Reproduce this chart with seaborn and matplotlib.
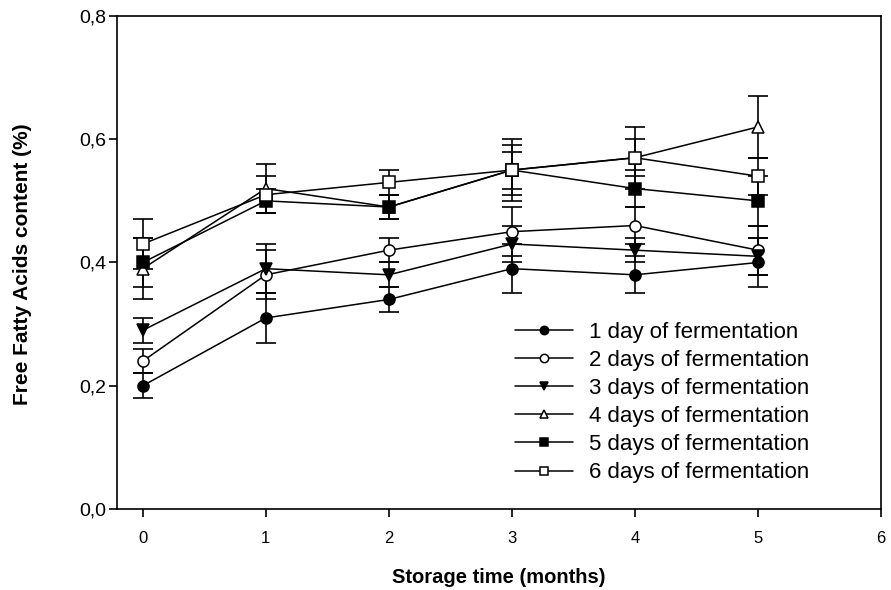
import numpy as np
import pandas as pd
import matplotlib
matplotlib.use("Agg")
import matplotlib.pyplot as plt
import seaborn as sns
from matplotlib.ticker import FuncFormatter

# data
months = [0, 1, 2, 3, 4, 5]
labels = ["1 day of fermentation", "2 days of fermentation", "3 days of fermentation",
          "4 days of fermentation", "5 days of fermentation", "6 days of fermentation"]
ffa_1d = [0.20, 0.31, 0.34, 0.39, 0.38, 0.40]
ffa_2d = [0.24, 0.38, 0.42, 0.45, 0.46, 0.42]
ffa_3d = [0.29, 0.39, 0.38, 0.43, 0.42, 0.41]
ffa_4d = [0.39, 0.52, 0.49, 0.55, 0.57, 0.62]
ffa_5d = [0.40, 0.50, 0.49, 0.55, 0.52, 0.50]
ffa_6d = [0.43, 0.51, 0.53, 0.55, 0.57, 0.54]
err_1d = [0.02, 0.04, 0.02, 0.04, 0.03, 0.04]
err_2d = [0.02, 0.04, 0.02, 0.04, 0.03, 0.04]
err_3d = [0.02, 0.04, 0.02, 0.03, 0.02, 0.03]
err_4d = [0.05, 0.04, 0.02, 0.05, 0.03, 0.05]
err_5d = [0.04, 0.02, 0.02, 0.04, 0.03, 0.04]
err_6d = [0.04, 0.03, 0.02, 0.03, 0.05, 0.03]

values = [ffa_1d, ffa_2d, ffa_3d, ffa_4d, ffa_5d, ffa_6d]
errors = [err_1d, err_2d, err_3d, err_4d, err_5d, err_6d]
markers = ["o", "o", "v", "^", "s", "s"]
faces = ["black", "white", "black", "white", "black", "white"]

sns.set_theme(style="ticks")
plt.rcParams["font.family"] = ["Liberation Sans", "DejaVu Sans"]
plt.rcParams["text.color"] = "black"
plt.rcParams["axes.labelcolor"] = "black"

fig = plt.figure(figsize=(8.91, 5.90), dpi=100)
ax = fig.add_axes([0.1313, 0.1373, 0.8575, 0.8356])

for lab, vals, errs, mk, fc in zip(labels, values, errors, markers, faces):
    df = pd.DataFrame({"month": months, "ffa": vals, "err": errs})
    ax.errorbar(df["month"], df["ffa"], yerr=df["err"], fmt="none", ecolor="black",
                elinewidth=1.2, capsize=7, capthick=1.2, zorder=2)
    sns.lineplot(data=df, x="month", y="ffa", ax=ax, color="black", linewidth=1.1,
                 marker=mk, markersize=8, markerfacecolor=fc, markeredgecolor="black",
                 markeredgewidth=1.1, label=lab, zorder=3)

ax.set_xlim(-0.21, 6.0)
ax.set_ylim(0.0, 0.8)
ax.set_xticks([0, 1, 2, 3, 4, 5, 6])
ax.set_yticks([0.0, 0.2, 0.4, 0.6, 0.8])
ax.yaxis.set_major_formatter(FuncFormatter(lambda v, p: f"{v:.1f}".replace(".", ",")))
for s in ax.spines.values():
    s.set_color("black")
    s.set_linewidth(1.2)
ax.tick_params(axis="both", direction="out", length=6, width=1.2, color="black", labelcolor="black")
ax.tick_params(axis="y", labelsize=14, pad=2)
ax.tick_params(axis="x", labelsize=12, pad=10)

ax.set_xlabel("Storage time (months)", fontsize=14.5, fontweight="bold")
ax.set_ylabel("Free Fatty Acids content (%)", fontsize=15, fontweight="bold")
ax.xaxis.set_label_coords(0.5, -0.138)
ax.yaxis.set_label_coords(-0.124, 0.497)
ax.xaxis.label.set_va("center")
ax.yaxis.label.set_va("center")

leg = ax.legend(loc="center left", bbox_to_anchor=(0.521, 0.216), frameon=False, fontsize=16,
                handlelength=2.6, labelspacing=0.32, handletextpad=0.75,
                borderpad=0, borderaxespad=0)
for h in leg.legend_handles:
    h.set_markersize(6)

fig.savefig("out.png", dpi=100)
